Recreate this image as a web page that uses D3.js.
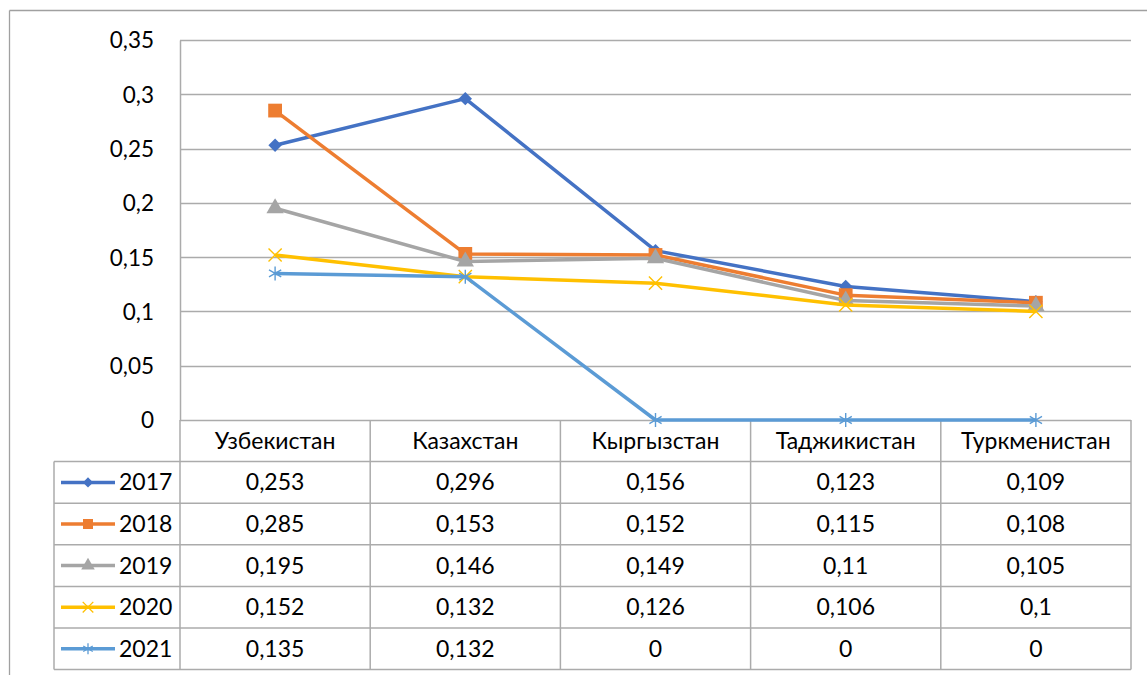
<!DOCTYPE html>
<html>
<head>
<meta charset="utf-8">
<script src="https://cdn.jsdelivr.net/npm/d3@7"></script>
<style>
  body { margin: 0; background: #fff; }
  svg text { font-family: Lato, "Noto Sans", sans-serif; fill: #000; }
</style>
</head>
<body>
<div id="graph_container"></div>
<script>
var width  = 1147;
var height = 675;

// data
var countries = ["Узбекистан", "Казахстан", "Кыргызстан", "Таджикистан", "Туркменистан"];
var years     = ["2017", "2018", "2019", "2020", "2021"];
var v2017     = [0.253, 0.296, 0.156, 0.123, 0.109];
var v2018     = [0.285, 0.153, 0.152, 0.115, 0.108];
var v2019     = [0.195, 0.146, 0.149, 0.11, 0.105];
var v2020     = [0.152, 0.132, 0.126, 0.106, 0.1];
var v2021     = [0.135, 0.132, 0, 0, 0];
var yTicks    = [0, 0.05, 0.1, 0.15, 0.2, 0.25, 0.3, 0.35];

// excel-like diamond = square turned 45deg
var series = [
    { name: years[0], values: v2017, color: "#4472C4", marker: d3.symbolSquare,   rot: 45, fill: true,  size: 90,  lsize: 52 },
    { name: years[1], values: v2018, color: "#ED7D31", marker: d3.symbolSquare,   rot: 0,  fill: true,  size: 190, lsize: 100 },
    { name: years[2], values: v2019, color: "#A5A5A5", marker: d3.symbolTriangle, rot: 0,  fill: true,  size: 130, lsize: 80 },
    { name: years[3], values: v2020, color: "#FFC000", marker: d3.symbolTimes,    rot: 0,  fill: false, size: 115, lsize: 75 },
    { name: years[4], values: v2021, color: "#5B9BD5", marker: d3.symbolAsterisk, rot: 0,  fill: false, size: 140, lsize: 85 }
];

var ru = d3.formatLocale({ decimal: ",", thousands: " ", grouping: [3], currency: ["", ""] });
var fmt = ru.format("~g");

var plotLeft = 180, plotRight = 1131, plotTop = 40, plotBottom = 420;
var rowH = 41.6;
var legendLeft = 54;
var gridColor = "#ABABAB";
var fontSize = "23px";

var svg = d3.select("#graph_container").append("svg")
    .attr("width", width).attr("height", height);

// outer chart border (top + left visible)
svg.append("line").attr("x1", 9.5).attr("x2", width).attr("y1", 10.5).attr("y2", 10.5)
    .attr("stroke", "#A0A0A0").attr("stroke-width", 1.3);
svg.append("line").attr("x1", 9.5).attr("x2", 9.5).attr("y1", 10.5).attr("y2", height)
    .attr("stroke", "#A0A0A0").attr("stroke-width", 1.3);

var x = d3.scaleBand().domain(countries).range([plotLeft, plotRight]).padding(0);
var y = d3.scaleLinear().domain([0, 0.35]).range([plotBottom, plotTop]);
var cx = function(c) { return x(c) + x.bandwidth() / 2; };

// gridlines
svg.append("g").selectAll("line").data(yTicks).enter().append("line")
    .attr("x1", plotLeft).attr("x2", plotRight)
    .attr("y1", function(d) { return Math.round(y(d)) + 0.5; })
    .attr("y2", function(d) { return Math.round(y(d)) + 0.5; })
    .attr("stroke", gridColor).attr("stroke-width", 1.5);

// y axis
var yAxis = svg.append("g").attr("transform", "translate(" + plotLeft + ",0)")
    .call(d3.axisLeft(y).tickValues(yTicks).tickFormat(fmt).tickSize(0).tickPadding(26));
yAxis.select(".domain").attr("stroke", gridColor).attr("stroke-width", 1.5);
yAxis.selectAll("text").style("font-size", "22.5px").attr("dy", "0.35em");

// table
var tbl = svg.append("g");
var tableBottom = plotBottom + rowH * 6;
for (var r = 1; r <= 6; r++) {
    tbl.append("line")
        .attr("x1", legendLeft).attr("x2", plotRight)
        .attr("y1", plotBottom + rowH * r).attr("y2", plotBottom + rowH * r)
        .attr("stroke", gridColor).attr("stroke-width", 1.5);
}
var vx = countries.map(function(c) { return x(c); }).concat([plotRight]);
tbl.selectAll(".vl").data(vx).enter().append("line")
    .attr("x1", function(d) { return d; }).attr("x2", function(d) { return d; })
    .attr("y1", plotBottom).attr("y2", tableBottom)
    .attr("stroke", gridColor).attr("stroke-width", 1.5);
tbl.append("line").attr("x1", legendLeft).attr("x2", legendLeft)
    .attr("y1", plotBottom + rowH).attr("y2", tableBottom)
    .attr("stroke", gridColor).attr("stroke-width", 1.5);

// header
tbl.selectAll(".hdr").data(countries).enter().append("text")
    .attr("x", cx).attr("y", plotBottom + rowH / 2).attr("dy", "0.35em")
    .attr("text-anchor", "middle").style("font-size", fontSize)
    .text(function(d) { return d; });

// rows
series.forEach(function(s, i) {
    var rowY = plotBottom + rowH * (i + 1) + rowH / 2;
    tbl.selectAll(".cell" + i).data(s.values).enter().append("text")
        .attr("x", function(d, j) { return cx(countries[j]); })
        .attr("y", rowY).attr("dy", "0.35em")
        .attr("text-anchor", "middle").style("font-size", fontSize)
        .text(function(d) { return fmt(d); });
    // legend key
    tbl.append("line").attr("x1", 61).attr("x2", 115).attr("y1", rowY).attr("y2", rowY)
        .attr("stroke", s.color).attr("stroke-width", 3.5);
    tbl.append("path")
        .attr("d", d3.symbol().type(s.marker).size(s.lsize)())
        .attr("transform", "translate(88," + rowY + ") rotate(" + s.rot + ")")
        .attr("fill", s.fill ? s.color : "none")
        .attr("stroke", s.color).attr("stroke-width", s.fill ? 0 : 1.3);
    tbl.append("text").attr("x", 119).attr("y", rowY).attr("dy", "0.35em")
        .style("font-size", fontSize).text(s.name);
});

// lines
var line = d3.line()
    .x(function(d, j) { return cx(countries[j]); })
    .y(function(d) { return y(d); });

var lines = svg.append("g");
series.forEach(function(s) {
    lines.append("path").datum(s.values)
        .attr("d", line)
        .attr("fill", "none").attr("stroke", s.color)
        .attr("stroke-width", 3.5).attr("stroke-linejoin", "round");
    lines.selectAll(".m").data(s.values).enter().append("path")
        .attr("d", d3.symbol().type(s.marker).size(s.size)())
        .attr("transform", function(d, j) {
            return "translate(" + cx(countries[j]) + "," + y(d) + ") rotate(" + s.rot + ")";
        })
        .attr("fill", s.fill ? s.color : "none")
        .attr("stroke", s.color).attr("stroke-width", s.fill ? 0 : 1.4);
});
</script>
</body>
</html>
